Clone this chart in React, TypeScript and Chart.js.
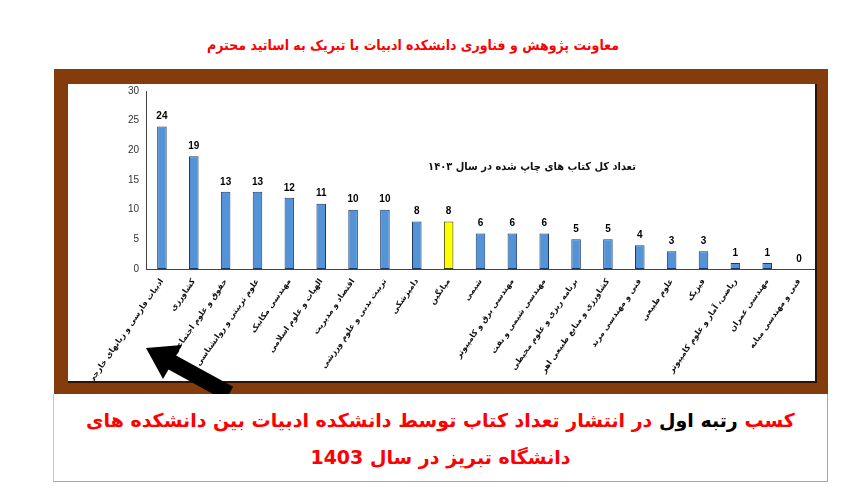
import React, { useEffect, useRef } from "react";
import { Chart, registerables } from "chart.js";

Chart.register(...registerables);

const categories: string[] = [
  "ادبیات فارسی و زبانهای خارجی",
  "کشاورزی",
  "حقوق و علوم اجتماعی",
  "علوم تربیتی و روانشناسی",
  "مهندسی مکانیک",
  "الهیات و علوم اسلامی",
  "اقتصاد و مدیریت",
  "تربیت بدنی و علوم ورزشی",
  "دامپزشکی",
  "میانگین",
  "شیمی",
  "مهندسی برق و کامپیوتر",
  "مهندسی شیمی و نفت",
  "برنامه ریزی و علوم محیطی",
  "کشاورزی و منابع طبیعی اهر",
  "فنی و مهندسی مرند",
  "علوم طبیعی",
  "فیزیک",
  "ریاضی، آمار و علوم کامپیوتر",
  "مهندسی عمران",
  "فنی و مهندسی میانه",
];

const bookCounts: number[] = [24, 19, 13, 13, 12, 11, 10, 10, 8, 8, 6, 6, 6, 5, 5, 4, 3, 3, 1, 1, 0];

const averageLabel = "میانگین";
const yTicksMax = 30;
const yTicksStep = 5;

const pageTitle = "معاونت پژوهش و فناوری دانشکده ادبیات با تبریک به اساتید محترم";
const chartTitle = "تعداد کل کتاب های چاپ شده در سال ۱۴۰۳";

const ARABIC_FONT = "'DejaVu Sans', 'Noto Sans', sans-serif";
const ARABIC_COND = "'DejaVu Sans Condensed', 'DejaVu Sans', sans-serif";

const valueLabelPlugin = {
  id: "valueLabels",
  afterDatasetsDraw(chart: any) {
    const ctx = chart.ctx;
    const meta = chart.getDatasetMeta(0);
    const data = chart.data.datasets[0].data;
    ctx.save();
    ctx.font = "bold 10px 'Liberation Sans', Arial, sans-serif";
    ctx.fillStyle = "#000";
    ctx.textAlign = "center";
    ctx.textBaseline = "bottom";
    meta.data.forEach((bar: any, i: number) => {
      ctx.fillText(String(data[i]), bar.x, bar.y - 5);
    });
    ctx.restore();
  },
};

const chartTitlePlugin = {
  id: "innerTitle",
  afterDraw(chart: any) {
    const { ctx, chartArea } = chart;
    ctx.save();
    ctx.font = "bold 11px " + ARABIC_COND;
    ctx.fillStyle = "#111";
    ctx.textAlign = "center";
    ctx.textBaseline = "middle";
    const x = chartArea.left + (chartArea.right - chartArea.left) * 0.577;
    const y = chartArea.top + (chartArea.bottom - chartArea.top) * 0.43;
    ctx.fillText(chartTitle, x, y);
    ctx.restore();
  },
};

function BarChart() {
  const ref = useRef<HTMLCanvasElement | null>(null);
  useEffect(() => {
    if (!ref.current) return;
    const colors = categories.map((c) => (c === averageLabel ? "#FFFF00" : "#5394D8"));
    const borders = categories.map((c) => (c === averageLabel ? "#3a3a00" : "#1F3864"));
    const chart = new Chart(ref.current, {
      type: "bar",
      data: {
        labels: categories,
        datasets: [
          {
            data: bookCounts,
            backgroundColor: colors,
            borderColor: borders,
            borderWidth: 1,
            borderSkipped: false,
            barPercentage: 0.3,
            categoryPercentage: 1,
          },
        ],
      },
      options: {
        animation: false,
        responsive: false,
        maintainAspectRatio: false,
        layout: { padding: { top: 7, right: 0, left: 0, bottom: 0 } },
        plugins: {
          legend: { display: false },
          tooltip: { enabled: false },
          title: { display: false },
        },
        scales: {
          x: {
            grid: { display: false, drawTicks: false },
            border: { display: true, color: "#444", width: 1 },
            ticks: {
              autoSkip: false,
              minRotation: 55,
              maxRotation: 55,
              padding: 8,
              color: "#111",
              font: { size: 8, family: ARABIC_FONT, weight: "bold" },
            },
            afterFit(scale: any) {
              scale.height = 112;
              scale.paddingLeft = 0;
              scale.paddingRight = 0;
            },
          },
          y: {
            min: 0,
            max: yTicksMax,
            grid: { display: false, drawTicks: false },
            border: { display: true, color: "#444", width: 1 },
            ticks: {
              stepSize: yTicksStep,
              padding: 7,
              color: "#333",
              font: { size: 10, family: "'Liberation Sans Narrow', 'Liberation Sans', sans-serif" },
            },
            afterFit(scale: any) {
              scale.width = 78;
              scale.paddingTop = 0;
              scale.paddingBottom = 0;
            },
          },
        },
      },
      plugins: [valueLabelPlugin, chartTitlePlugin],
    });
    return () => chart.destroy();
  }, []);
  return <canvas ref={ref} width={747} height={297} style={{ display: "block" }} />;
}

export default function App() {
  return (
    <div
      style={{
        position: "absolute",
        left: 0,
        top: 0,
        width: 850,
        height: 500,
        background: "#fff",
        overflow: "hidden",
        fontFamily: ARABIC_FONT,
      }}
    >
      <div
        dir="rtl"
        style={{
          position: "absolute",
          left: 0,
          width: 826,
          top: 33,
          height: 24,
          lineHeight: "24px",
          textAlign: "center",
          color: "#FF0000",
          fontWeight: "bold",
          fontSize: 14,
          fontFamily: ARABIC_COND,
        }}
      >
        {pageTitle}
      </div>

      {/* brown frame */}
      <div
        style={{
          position: "absolute",
          left: 54,
          top: 69,
          width: 774,
          height: 325,
          background: "#843C0C",
        }}
      />
      <div
        style={{
          position: "absolute",
          left: 68,
          top: 84,
          width: 747,
          height: 297,
          background: "#fff",
          boxShadow: "1px 1px 0 1px #2a1205",
        }}
      >
        <BarChart />
      </div>

      {/* arrow */}
      <svg width={850} height={500} style={{ position: "absolute", left: 0, top: 0 }}>
        <polygon
          points="146,348 163,379 168.5,369.4 225.5,400.7 233.1,386.7 176.1,355.4 182,345"
          fill="#000"
        />
      </svg>

      {/* bottom box */}
      <div
        style={{
          position: "absolute",
          left: 53,
          top: 394,
          width: 773,
          height: 87,
          background: "#fff",
          borderRight: "1px solid #a6a6a6",
          borderBottom: "1px solid #a6a6a6",
          borderLeft: "1px solid #c8c8c8",
        }}
      >
        <div
          dir="rtl"
          style={{
            position: "absolute",
            left: 0,
            width: 773,
            top: 12,
            height: 28,
            lineHeight: "28px",
            textAlign: "center",
            fontWeight: "bold",
            fontSize: 19,
            color: "#FF0000",
          }}
        >
          <span>کسب </span>
          <span style={{ color: "#000" }}>رتبه اول</span>
          <span> در انتشار تعداد کتاب توسط دانشکده ادبیات بین دانشکده های</span>
        </div>
        <div
          dir="rtl"
          style={{
            position: "absolute",
            left: 0,
            width: 773,
            top: 49,
            height: 28,
            lineHeight: "28px",
            textAlign: "center",
            fontWeight: "bold",
            fontSize: 19,
            color: "#FF0000",
          }}
        >
          دانشگاه تبریز در سال 1403
        </div>
      </div>
    </div>
  );
}
